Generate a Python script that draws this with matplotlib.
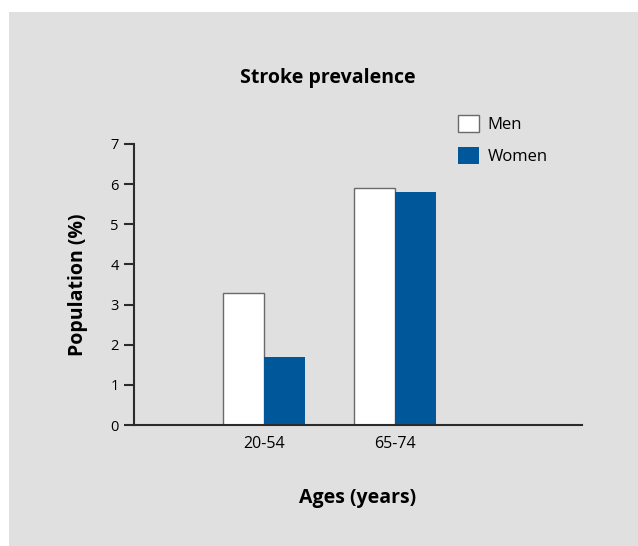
import numpy as np
import matplotlib.pyplot as plt
from matplotlib.patches import Rectangle

plt.rcParams['font.family'] = ['Open Sans', 'DejaVu Sans']

# data
age_groups = ["20-54", "65-74"]
men = [3.3, 5.9]
women = [1.7, 5.8]
y_ticks = [0, 1, 2, 3, 4, 5, 6, 7]

bg = "#e0e0e0"
blue = "#00589b"

fig = plt.figure(figsize=(6.38, 5.46), dpi=100)
fig.patch.set_facecolor("white")
# grey panel behind everything
fig.patches.append(Rectangle((9/638, 0), 1 - 9/638, 1 - 12/546, transform=fig.transFigure,
                             facecolor=bg, edgecolor="none", zorder=-10))

ax = fig.add_axes([0.210, 0.2216, 0.702, 0.5147])
ax.set_facecolor("none")

x = np.arange(len(age_groups))
w = 0.313
ax.bar(x - w/2, men, w, color="white", edgecolor="#6a6a6a", linewidth=1.0, label="Men")
ax.bar(x + w/2, women, w, color=blue, edgecolor="none", label="Women")

ax.set_xlim(-0.992, 2.427)
ax.set_ylim(0, 7)
ax.set_yticks(y_ticks)
ax.set_xticks(x)
ax.set_xticklabels(age_groups)

for s in ["top", "right"]:
    ax.spines[s].set_visible(False)
for s in ["left", "bottom"]:
    ax.spines[s].set_color("#2b2b2b")
    ax.spines[s].set_linewidth(1.5)

ax.tick_params(axis="y", direction="out", length=7, width=1.5, color="#2b2b2b",
               labelsize=10.5, pad=4)
ax.tick_params(axis="x", length=0, labelsize=11.5, pad=8)

ax.set_ylabel("Population (%)", fontsize=14, fontweight="bold", labelpad=16)
ax.set_xlabel("Ages (years)", fontsize=14, fontweight="bold", labelpad=26)

fig.text(328/638, 1 - 78/546, "Stroke prevalence", ha="center", va="center",
         fontsize=14, fontweight="bold")

leg = fig.legend(loc="upper left", bbox_to_anchor=(458/638, 1 - 115/546), frameon=False,
                 fontsize=12, handlelength=1.26, handleheight=1.15, handletextpad=0.5,
                 labelspacing=0.85, borderpad=0, borderaxespad=0)

fig.savefig("out.png", dpi=100)
